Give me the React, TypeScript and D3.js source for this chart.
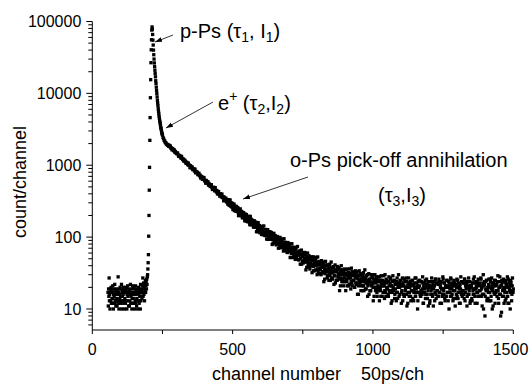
import React from 'react';
import * as d3 from 'd3';

const W = 529;
const H = 385;

// x axis ticks
const xTicks = [0, 500, 1000, 1500];
const xMinorTicks = [250, 750, 1250];
// y axis ticks (log)
const yTicks = [10, 100, 1000, 10000, 100000];
const yTickLabels = ['10', '100', '1000', '10000', '100000'];

// background before the peak: channels 56..196, one per channel
const bgStart = 56;
const bgStep = 1;
const bgCounts = [
  17, 11, 19, 15, 27, 13, 16, 10, 19, 17, 13, 20, 12, 18, 14,
  12, 17, 21, 14, 10, 16, 19, 15, 12, 22, 16, 13, 18, 11, 17,
  19, 14, 11, 18, 16, 12, 28, 13, 17, 10, 19, 16, 14, 20, 12,
  15, 19, 13, 22, 10, 17, 15, 18, 12, 16, 20, 13, 17, 10, 17,
  14, 18, 12, 20, 13, 17, 19, 10, 16, 13, 21, 15, 19, 11, 17,
  17, 11, 18, 13, 16, 22, 12, 15, 19, 16, 10, 14, 21, 17, 12,
  12, 20, 14, 16, 19, 10, 17, 13, 21, 12, 16, 18, 11, 14, 19,
  17, 10, 17, 13, 20, 16, 12, 18, 15, 17, 10, 22, 13, 19, 15,
  18, 14, 21, 17, 27, 15, 19, 23, 16, 20, 13, 22, 18, 25, 17,
  21, 24, 19, 26, 22, 28,
];

// rise to the peak
const riseChannels = [197, 198, 199, 200, 201, 202, 203, 204, 205, 206, 207, 208, 209, 210, 211, 212, 213];
const riseCounts = [30, 36, 44, 57, 103, 200, 450, 935, 2220, 4600, 8700, 15500, 26700, 40400, 55700, 76000, 84000];

// fast decay (p-Ps and free e+)
const decayChannels = [
  214, 215, 216, 217, 218, 219, 220, 221, 222, 223, 224, 225, 226, 227, 228, 229, 230,
  231, 232, 233, 234, 235, 236, 237, 238, 239, 240, 241, 242, 243, 244, 245, 246, 247, 248, 249, 250,
  252, 254, 256, 258, 260, 262, 264, 266, 268,
];
const decayCounts = [
  78000, 66000, 55000, 47000, 40000, 34500, 30000, 26500, 23500, 21000, 19000, 17000, 15000, 13700, 12200, 11000, 9900,
  8900, 8000, 7300, 6700, 6100, 5600, 5200, 4800, 4500, 4200, 4000, 3800, 3560, 3350, 3230, 3080, 2920, 2790, 2720, 2630,
  2430, 2350, 2220, 2170, 2070, 2050, 1970, 1960, 1900,
];

// o-Ps tail, even channels 270..1500
const tailStart = 270;
const tailStep = 2;
const tailCounts = [
  1933, 1840, 1889, 1814, 1854, 1731, 1734, 1634, 1708, 1658, 1594, 1634, 1520, 1555, 1494,
  1450, 1473, 1478, 1390, 1328, 1363, 1366, 1306, 1255, 1326, 1243, 1200, 1224, 1139, 1173,
  1174, 1111, 1061, 1103, 1071, 1020, 1073, 995, 1003, 923, 985, 946, 915, 944, 869,
  874, 891, 830, 882, 785, 819, 791, 800, 739, 759, 774, 713, 729, 664, 700,
  688, 639, 678, 641, 673, 606, 615, 563, 614, 592, 560, 590, 529, 557, 527,
  507, 527, 537, 491, 460, 487, 495, 465, 441, 488, 445, 424, 445, 398, 424,
  430, 397, 372, 402, 387, 362, 397, 354, 364, 320, 361, 342, 328, 349, 308,
  314, 329, 296, 331, 276, 300, 287, 296, 263, 278, 291, 256, 270, 234, 259,
  255, 229, 254, 236, 258, 220, 230, 200, 234, 223, 207, 228, 193, 212, 197,
  187, 202, 210, 183, 167, 187, 193, 177, 164, 195, 170, 160, 174, 148, 166,
  171, 152, 139, 158, 151, 137, 162, 137, 145, 119, 146, 136, 128, 144, 120,
  126, 136, 117, 141, 108, 124, 118, 125, 105, 116, 126, 105, 115, 93, 110,
  109, 94, 112, 100, 116, 93, 100, 82, 105, 99, 89, 105, 82, 97, 87,
  81, 93, 99, 82, 72, 85, 90, 80, 72, 94, 78, 72, 82, 65, 77,
  83, 70, 62, 76, 72, 63, 81, 64, 69, 52, 72, 65, 61, 72, 56,
  60, 68, 56, 72, 49, 61, 57, 62, 48, 57, 64, 50, 58, 42, 55,
  54, 44, 57, 49, 61, 45, 49, 38, 54, 51, 44, 55, 39, 50, 43,
  40, 48, 53, 41, 34, 44, 48, 41, 35, 52, 41, 36, 44, 31, 41,
  45, 36, 31, 41, 38, 32, 45, 33, 38, 26, 40, 35, 33, 41, 29,
  33, 39, 30, 42, 25, 35, 32, 37, 26, 33, 39, 29, 35, 23, 33,
  33, 25, 35, 29, 38, 26, 30, 21, 35, 32, 26, 35, 24, 32, 27,
  24, 31, 35, 26, 21, 29, 32, 27, 22, 36, 27, 24, 31, 21, 29,
  32, 25, 20, 29, 27, 22, 33, 23, 27, 16, 29, 25, 23, 31, 21,
  24, 29, 21, 32, 18, 26, 24, 27, 19, 24, 30, 21, 25, 16, 24,
  24, 18, 27, 22, 30, 20, 23, 15, 26, 24, 20, 28, 17, 25, 21,
  18, 24, 28, 20, 15, 22, 25, 21, 17, 29, 21, 18, 24, 15, 23,
  25, 19, 16, 24, 21, 17, 27, 18, 21, 13, 24, 20, 18, 25, 16,
  19, 24, 17, 27, 14, 22, 20, 23, 16, 21, 25, 17, 22, 13, 21,
  21, 15, 24, 19, 27, 16, 20, 12, 23, 21, 17, 24, 15, 22, 18,
  21, 14, 22, 17, 19, 27, 15, 19, 23, 20, 13, 17, 25, 21, 16,
  15, 24, 17, 19, 23, 12, 20, 17, 25, 16, 20, 22, 14, 18, 24,
  20, 12, 21, 16, 24, 20, 15, 22, 19, 21, 13, 26, 16, 23, 18,
  18, 22, 15, 24, 17, 21, 23, 12, 19, 16, 26, 18, 23, 14, 20,
  15, 21, 25, 17, 13, 20, 23, 19, 15, 26, 19, 16, 22, 14, 21,
  23, 18, 14, 22, 20, 15, 25, 17, 20, 12, 22, 19, 17, 24, 15,
  18, 23, 16, 26, 13, 21, 19, 22, 15, 20, 24, 16, 21, 12, 20,
  20, 14, 23, 18, 26, 16, 19, 12, 23, 21, 17, 24, 15, 22, 18,
  21, 18, 27, 15, 20, 16, 23, 10, 21, 24, 15, 19, 25, 13, 18,
  14, 22, 20, 17, 26, 13, 19, 22, 18, 11, 23, 21, 16, 25, 17,
  22, 15, 24, 18, 12, 20, 28, 16, 21, 9, 23, 18, 24, 15, 20,
  17, 25, 14, 20, 22, 15, 26, 12, 19, 22, 17, 23, 13, 21, 18,
  19,
];

// o-Ps tail, odd channels 481..1499
const oddTailStart = 481;
const oddTailStep = 2;
const oddTailCounts = [
  327, 287, 323, 290, 298, 329, 270, 282, 299, 279, 242, 258, 288, 268, 238,
  232, 268, 234, 241, 250, 199, 234, 215, 247, 202, 218, 222, 185, 199, 219,
  203, 169, 201, 179, 206, 187, 164, 190, 174, 180, 149, 194, 154, 177, 158,
  153, 165, 138, 169, 141, 153, 159, 119, 142, 129, 159, 132, 145, 115, 134,
  134, 109, 135, 115, 122, 143, 107, 116, 128, 117, 94, 106, 127, 116, 97,
  94, 119, 99, 103, 111, 79, 103, 92, 113, 85, 96, 100, 78, 87, 102,
  93, 70, 93, 79, 99, 85, 71, 89, 79, 83, 64, 95, 68, 85, 72,
  71, 79, 61, 84, 65, 74, 78, 52, 68, 59, 81, 63, 72, 52, 66,
  66, 49, 68, 54, 59, 74, 49, 56, 64, 58, 42, 51, 66, 58, 46,
  44, 61, 47, 51, 57, 35, 52, 45, 60, 41, 49, 52, 36, 43, 53,
  48, 32, 48, 39, 53, 44, 34, 48, 40, 44, 30, 53, 34, 46, 37,
  36, 43, 30, 47, 33, 40, 44, 24, 36, 31, 46, 34, 41, 27, 36,
  37, 25, 39, 29, 33, 45, 27, 32, 38, 33, 22, 29, 41, 35, 25,
  25, 39, 28, 31, 36, 18, 32, 27, 40, 24, 30, 33, 21, 27, 36,
  30, 18, 31, 24, 36, 29, 21, 32, 27, 30, 19, 37, 23, 33, 25,
  25, 30, 20, 34, 23, 29, 32, 16, 26, 21, 34, 24, 30, 18, 26,
  27, 18, 29, 21, 24, 35, 19, 23, 29, 25, 15, 22, 31, 26, 18,
  18, 30, 21, 23, 28, 13, 25, 20, 30, 18, 23, 26, 15, 20, 28,
  24, 13, 25, 18, 29, 23, 15, 25, 21, 23, 14, 30, 17, 26, 20,
  19, 24, 15, 28, 18, 23, 26, 12, 21, 17, 29, 19, 25, 14, 22,
  22, 13, 24, 17, 20, 30, 15, 20, 25, 21, 12, 18, 27, 23, 16,
  15, 26, 18, 20, 24, 11, 21, 17, 27, 15, 20, 23, 13, 18, 25,
  25, 18, 13, 23, 20, 15, 27, 17, 21, 10, 24, 20, 17, 25, 15,
  18, 24, 16, 28, 12, 21, 19, 23, 14, 20, 26, 16, 22, 11, 21,
  21, 13, 24, 18, 27, 16, 20, 11, 24, 21, 17, 26, 14, 23, 18,
  15, 22, 26, 17, 12, 20, 24, 19, 15, 28, 19, 16, 23, 13, 21,
  15, 25, 17, 20, 24, 10, 21, 17, 27, 15, 20, 23, 13, 18, 25,
  21, 11, 22, 16, 26, 20, 14, 23, 19, 21, 12, 28, 16, 24, 18,
  18, 23, 14, 26, 17, 21, 24, 11, 20, 16, 27, 18, 24, 13, 21,
  21, 13, 23, 16, 19, 28, 15, 19, 24, 20, 12, 17, 26, 22, 15,
  23, 15, 26, 19, 11, 21, 30, 16, 22, 8, 24, 18, 25, 14, 20,
  17, 26, 13, 20, 24, 15, 27, 10, 20, 23, 17, 25, 12, 21, 18,
  22, 18, 29, 14, 20, 16, 24, 8, 21, 25, 15, 19, 26, 12, 18,
  13, 23, 21, 17, 28, 12, 20, 24, 18, 10, 25, 21, 16, 27, 17,
];

const FONT = "'Liberation Sans', Arial, Helvetica, sans-serif";

export default function App() {
  const x = d3.scaleLinear().domain([0, 1500]).range([92.3, 513.3]);
  const y = d3.scaleLog().domain([5.1, 100000]).range([330, 21.5]);

  const pts: [number, number][] = [];
  bgCounts.forEach((c, i) => pts.push([bgStart + i * bgStep, c]));
  riseChannels.forEach((ch, i) => pts.push([ch, riseCounts[i]]));
  decayChannels.forEach((ch, i) => pts.push([ch, decayCounts[i]]));
  tailCounts.forEach((c, i) => pts.push([tailStart + i * tailStep, c]));
  oddTailCounts.forEach((c, i) => pts.push([oddTailStart + i * oddTailStep, c]));

  const yMinor: number[] = [];
  for (let e = 0; e < 5; e++) {
    for (let m = 2; m <= 9; m++) {
      const v = m * Math.pow(10, e);
      if (v >= 5.1 && v <= 100000) yMinor.push(v);
    }
  }

  const x0 = x.range()[0];
  const yBase = y.range()[0];
  const yTop = y.range()[1];
  const ms = 3.3;

  return (
    <svg width={W} height={H} style={{ position: 'absolute', left: 0, top: 0, background: '#fff' }} fontFamily={FONT}>
      <defs>
        <marker id="ah" viewBox="0 0 10 10" refX="10" refY="5" markerWidth="7" markerHeight="7"
          markerUnits="userSpaceOnUse" orient="auto">
          <path d="M0,1.5 L10,5 L0,8.5 Z" fill="#000" />
        </marker>
      </defs>
      <rect x={0} y={0} width={W} height={H} fill="#fff" />

      {/* data */}
      <g fill="#000">
        {pts.map(([ch, c], i) => (
          <rect key={i} x={x(ch) - ms / 2} y={y(c) - ms / 2} width={ms} height={ms} />
        ))}
      </g>

      {/* axes */}
      <g stroke="#000" strokeWidth={1} fill="none">
        <line x1={x0} x2={x0} y1={yTop} y2={yBase} />
        <line x1={x0} x2={x(1500)} y1={yBase} y2={yBase} />
        {yTicks.map((v) => (
          <line key={'ym' + v} x1={x0 - 6} x2={x0} y1={y(v)} y2={y(v)} />
        ))}
        {yMinor.map((v) => (
          <line key={'yn' + v} x1={x0 - 4} x2={x0} y1={y(v)} y2={y(v)} />
        ))}
        {xTicks.map((v) => (
          <line key={'xm' + v} x1={x(v)} x2={x(v)} y1={yBase} y2={yBase + 4} />
        ))}
        {xMinorTicks.map((v) => (
          <line key={'xn' + v} x1={x(v)} x2={x(v)} y1={yBase} y2={yBase + 4} />
        ))}
      </g>
      <g fontSize={16} fill="#000">
        {yTicks.map((v, i) => (
          <text key={'yl' + v} x={x0 - 11} y={y(v) + 5.6} textAnchor="end">{yTickLabels[i]}</text>
        ))}
        {xTicks.map((v) => (
          <text key={'xl' + v} x={Math.min(x(v), W - 18.5)} y={yBase + 25} textAnchor="middle">{v}</text>
        ))}
      </g>

      {/* axis titles */}
      <text transform="translate(26,182) rotate(-90)" textAnchor="middle" fontSize={18}>count/channel</text>
      <text x={212} y={380} fontSize={18} xmlSpace="preserve" style={{ whiteSpace: 'pre' }}>channel number    50ps/ch</text>

      {/* annotations */}
      <g stroke="#000" strokeWidth={0.8}>
        <line x1={173} y1={35} x2={155} y2={42} markerEnd="url(#ah)" />
        <line x1={213} y1={102} x2={166} y2={128} markerEnd="url(#ah)" />
        <line x1={308} y1={177} x2={243} y2={199} markerEnd="url(#ah)" />
      </g>
      <g fontSize={20} fill="#000">
        <text x={180} y={37.5}>
          p-Ps (τ<tspan fontSize={14} dy={4}>1</tspan><tspan dy={-4}>, I</tspan><tspan fontSize={14} dy={4}>1</tspan><tspan dy={-4}>)</tspan>
        </text>
        <text x={218} y={110}>
          e<tspan fontSize={14} dy={-9}>+</tspan><tspan dy={9}> (τ</tspan><tspan fontSize={14} dy={4}>2</tspan><tspan dy={-4}>,I</tspan><tspan fontSize={14} dy={4}>2</tspan><tspan dy={-4}>)</tspan>
        </text>
        <text x={290} y={167}>o-Ps pick-off annihilation</text>
        <text x={378} y={202}>
          (τ<tspan fontSize={14} dy={4}>3</tspan><tspan dy={-4}>,I</tspan><tspan fontSize={14} dy={4}>3</tspan><tspan dy={-4}>)</tspan>
        </text>
      </g>
    </svg>
  );
}
